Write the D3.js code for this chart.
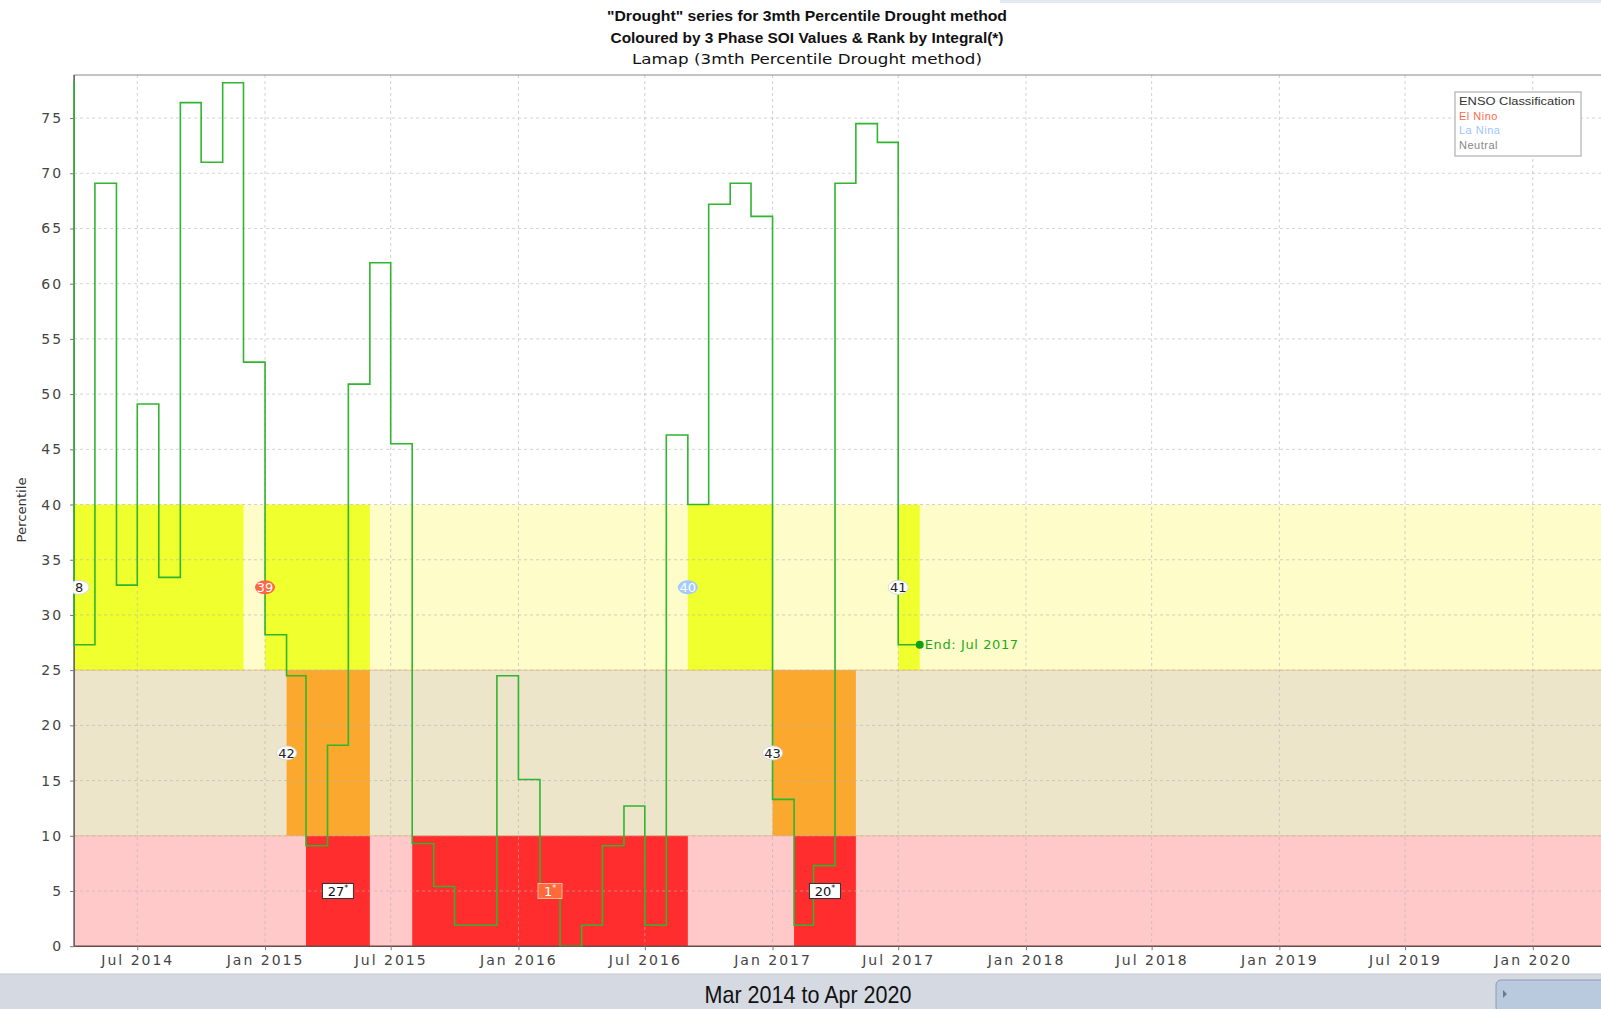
<!DOCTYPE html>
<html>
<head>
<meta charset="utf-8">
<script src="https://cdn.jsdelivr.net/npm/d3@7"></script>
<style>
html, body { margin: 0; padding: 0; background: #fff; overflow: hidden; }
svg { display: block; }
</style>
</head>
<body>
<svg id="chart"></svg>
<script>
// monthly 3mth percentile series
const months = ["2014-03","2014-04","2014-05","2014-06","2014-07","2014-08","2014-09","2014-10","2014-11","2014-12",
  "2015-01","2015-02","2015-03","2015-04","2015-05","2015-06","2015-07","2015-08","2015-09","2015-10","2015-11","2015-12",
  "2016-01","2016-02","2016-03","2016-04","2016-05","2016-06","2016-07","2016-08","2016-09","2016-10","2016-11","2016-12",
  "2017-01","2017-02","2017-03","2017-04","2017-05","2017-06","2017-07"];
const percentile = [78.2, 27.3, 69.1, 32.7, 49.1, 33.4, 76.4, 71.0, 78.2, 52.9,
  28.2, 24.5, 9.1, 18.2, 50.9, 61.9, 45.5, 9.3, 5.4, 1.9, 1.9, 24.5,
  15.1, 5.4, 0, 1.9, 9.1, 12.7, 1.9, 46.3, 40.0, 67.2, 69.1, 66.1,
  13.3, 1.9, 7.3, 69.1, 74.5, 72.8, 27.3];
const seriesEnd = "2017-08";

// percentile bands
const bandLow = [0, 10, 25];
const bandHigh = [10, 25, 40];
const bandLight = ["#ffc9c9", "#ede5c9", "#fefcc8"];
const bandStrong = ["#ff2d2d", "#fba82e", "#f0ff2e"];

// drought events
const eventStart = ["2014-04","2015-01","2016-09","2017-07","2015-02","2017-01","2015-03","2015-08","2017-02"];
const eventEnd   = ["2014-12","2015-06","2017-01","2017-08","2015-06","2017-05","2015-06","2016-09","2017-05"];
const eventBand  = [2, 2, 2, 2, 1, 1, 0, 0, 0];
const eventRank  = ["8","39","40","41","42","43","27","1","20"];
const eventEnso  = ["neutral","elnino","lanina","neutral","neutral","neutral","neutral","elnino","neutral"];

const ensoNames = ["El Nino", "La Nina", "Neutral"];
const ensoKeys = ["elnino", "lanina", "neutral"];
const ensoFill = {elnino: "#ff6443", lanina: "#a2cbff", neutral: "#ffffff"};
const ensoText = {elnino: "#ff6a4a", lanina: "#9cc6ff", neutral: "#888888"};

const yTicks = d3.range(0, 76, 5);

const W = 1601, H = 1009;
const pL = 74.1, pT = 75, pB = 946.2, pR = 1616.1;
const parseM = d3.timeParse("%Y-%m");
const parseD = d3.timeParse("%Y-%m-%d");

const x = d3.scaleTime()
    .domain([parseD("2014-04-01"), parseD("2020-04-30")])
    .range([pL, pR]);
const y = d3.scaleLinear().domain([0, 78.9]).range([pB, pT]);

const svg = d3.select("#chart").attr("width", W).attr("height", H)
    .style("font-family", "'DejaVu Sans', sans-serif");

svg.append("rect").attr("width", W).attr("height", H).attr("fill", "#fff");
svg.append("rect").attr("x", 1000).attr("y", 0).attr("width", 601).attr("height", 3).attr("fill", "#e4e9f1");

svg.append("defs").append("clipPath").attr("id", "plotclip")
    .append("rect").attr("x", pL - 1).attr("y", pT).attr("width", pR - pL + 1).attr("height", pB - pT);

const plot = svg.append("g").attr("clip-path", "url(#plotclip)");

// light bands
plot.append("g").selectAll("rect")
    .data(bandLow)
    .join("rect")
    .attr("x", pL)
    .attr("width", pR - pL)
    .attr("y", (d, i) => y(bandHigh[i]))
    .attr("height", (d, i) => y(d) - y(bandHigh[i]))
    .attr("fill", (d, i) => bandLight[i]);

// event columns
const events = eventStart.map((s, i) => ({
    start: parseM(s), end: parseM(eventEnd[i]), band: eventBand[i],
    rank: eventRank[i], enso: eventEnso[i]
}));

plot.append("g").selectAll("rect")
    .data(events)
    .join("rect")
    .attr("x", d => x(d.start))
    .attr("width", d => x(d.end) - x(d.start))
    .attr("y", d => y(bandHigh[d.band]))
    .attr("height", d => y(bandLow[d.band]) - y(bandHigh[d.band]))
    .attr("fill", d => bandStrong[d.band]);

// band edges
plot.append("g").selectAll("line")
    .data([10, 25])
    .join("line")
    .attr("x1", pL).attr("x2", pR)
    .attr("y1", d => y(d)).attr("y2", d => y(d))
    .attr("stroke", "#e8a060").attr("stroke-opacity", 0.55).attr("stroke-width", 1);

// grid
const xTicks = x.ticks(d3.timeMonth.every(6));
plot.append("g").selectAll("line")
    .data(xTicks)
    .join("line")
    .attr("x1", d => x(d)).attr("x2", d => x(d))
    .attr("y1", pT).attr("y2", pB)
    .attr("stroke", "#b4b4b4").attr("stroke-opacity", 0.6)
    .attr("stroke-dasharray", "3,3");
plot.append("g").selectAll("line")
    .data(yTicks.slice(1))
    .join("line")
    .attr("x1", pL).attr("x2", pR)
    .attr("y1", d => y(d)).attr("y2", d => y(d))
    .attr("stroke", "#b4b4b4").attr("stroke-opacity", 0.6)
    .attr("stroke-dasharray", "3,3");

// frame
svg.append("line").attr("x1", pL).attr("x2", W).attr("y1", pT).attr("y2", pT)
    .attr("stroke", "#8a8a8a").attr("stroke-width", 1.2);

// axes
const xAxis = svg.append("g")
    .attr("transform", `translate(0,${pB})`)
    .call(d3.axisBottom(x).tickValues(xTicks).tickFormat(d3.timeFormat("%b %Y")).tickSize(4).tickPadding(5));
const yAxis = svg.append("g")
    .attr("transform", `translate(${pL},0)`)
    .call(d3.axisLeft(y).tickValues(yTicks).tickSize(4).tickPadding(7));
[xAxis, yAxis].forEach(a => {
    a.select(".domain").attr("stroke", "#555").attr("stroke-width", 1.5);
    a.selectAll(".tick line").attr("stroke", "#777");
    a.selectAll(".tick text")
        .attr("font-family", "'DejaVu Sans', sans-serif")
        .attr("font-size", 14)
        .attr("letter-spacing", 2)
        .attr("fill", "#444");
});
xAxis.select(".domain").attr("d", `M${pL},0H${W}`).attr("stroke", "#6e4a4a");
yAxis.select(".domain").attr("d", `M0,${pT}V${pB}`);

// series and labels above the axes
const over = svg.append("g").attr("clip-path", "url(#plotclip)");

const pts = months.map((m, i) => [parseM(m), percentile[i]]);
pts.push([parseM(seriesEnd), percentile[percentile.length - 1]]);
const line = d3.line()
    .x(d => x(d[0]))
    .y(d => y(d[1]))
    .curve(d3.curveStepAfter);
over.append("path")
    .datum(pts)
    .attr("fill", "none")
    .attr("stroke", "#2fb52f")
    .attr("stroke-width", 1.6)
    .attr("d", line);

const bubble = events.filter(d => d.band > 0);
const bg = over.append("g").selectAll("g")
    .data(bubble)
    .join("g")
    .attr("transform", d => `translate(${Math.max(x(d.start), pL + 5)},${y((bandLow[d.band] + bandHigh[d.band]) / 2)})`);
bg.append("ellipse")
    .attr("rx", 10).attr("ry", 7)
    .attr("fill", d => ensoFill[d.enso])
    .attr("stroke", d => d.enso === "neutral" ? "#d8d8d8" : "none");
bg.append("text")
    .attr("text-anchor", "middle")
    .attr("dy", "0.36em")
    .attr("font-size", 13)
    .attr("fill", d => d.enso === "neutral" ? "#222" : "#fff")
    .text(d => d.rank);

const boxes = events.filter(d => d.band === 0);
const bx = over.append("g").selectAll("g")
    .data(boxes)
    .join("g")
    .attr("transform", d => `translate(${(x(d.start) + x(d.end)) / 2},${y(5)})`);
bx.append("rect")
    .attr("x", d => d.rank.length > 1 ? -15.5 : -12)
    .attr("width", d => d.rank.length > 1 ? 31 : 24)
    .attr("y", -7.5).attr("height", 15)
    .attr("fill", d => d.enso === "elnino" ? "#ff6a3a" : "#fff")
    .attr("stroke", d => d.enso === "elnino" ? "#ffb595" : "#333")
    .attr("stroke-width", 1);
const bt = bx.append("text")
    .attr("text-anchor", "middle")
    .attr("dy", "0.38em")
    .attr("font-size", 13)
    .attr("fill", d => d.enso === "elnino" ? "#fff" : "#111");
bt.append("tspan").text(d => d.rank);
bt.append("tspan").attr("font-size", 8).attr("dy", "-0.6em").text("*");

// end marker
const last = pts[pts.length - 1];
over.append("circle")
    .attr("cx", x(last[0])).attr("cy", y(last[1])).attr("r", 4)
    .attr("fill", "#11a011");
over.append("text")
    .attr("x", x(last[0]) + 5).attr("y", y(last[1]))
    .attr("dy", "0.35em")
    .attr("font-size", 13)
    .attr("letter-spacing", 0.6)
    .attr("fill", "#1ea81e")
    .text("End: " + d3.timeFormat("%b %Y")(parseM(months[months.length - 1])));

svg.append("text")
    .attr("transform", "translate(26,510) rotate(-90)")
    .attr("text-anchor", "middle")
    .attr("font-size", 13)
    .attr("textLength", 65).attr("lengthAdjust", "spacingAndGlyphs")
    .attr("fill", "#333")
    .text("Percentile");

// titles
const titles = [
    {t: "\"Drought\" series for 3mth Percentile Drought method", y: 20.5, w: 400, bold: true},
    {t: "Coloured by 3 Phase SOI Values & Rank by Integral(*)", y: 42.5, w: 393, bold: true},
    {t: "Lamap (3mth Percentile Drought method)", y: 64, w: 350, bold: false}
];
svg.append("g").selectAll("text")
    .data(titles)
    .join("text")
    .attr("x", 807)
    .attr("y", d => d.y)
    .attr("text-anchor", "middle")
    .attr("font-family", d => d.bold ? "'Liberation Sans', Arial, sans-serif" : "'DejaVu Sans', sans-serif")
    .attr("font-weight", d => d.bold ? "bold" : "normal")
    .attr("font-size", d => d.bold ? 15 : 14)
    .attr("textLength", d => d.w)
    .attr("lengthAdjust", "spacingAndGlyphs")
    .attr("fill", "#111")
    .text(d => d.t);

// legend
const lg = svg.append("g").attr("transform", "translate(1455,92)");
lg.append("rect").attr("width", 126).attr("height", 64)
    .attr("fill", "#fff").attr("stroke", "#c0c0c0").attr("stroke-width", 1.5);
lg.append("text").attr("x", 4).attr("y", 13)
    .attr("font-family", "'Liberation Sans', Arial, sans-serif")
    .attr("font-size", 11).attr("fill", "#333")
    .attr("textLength", 116).attr("lengthAdjust", "spacingAndGlyphs")
    .text("ENSO Classification");
lg.selectAll("text.item")
    .data(ensoKeys)
    .join("text")
    .attr("class", "item")
    .attr("x", 4)
    .attr("y", (d, i) => 27.5 + i * 14.6)
    .attr("font-family", "'Liberation Sans', Arial, sans-serif")
    .attr("font-size", 11)
    .attr("letter-spacing", 0.5)
    .attr("fill", d => ensoText[d])
    .text((d, i) => ensoNames[i]);

// bottom range bar
svg.append("rect").attr("x", 0).attr("y", 974).attr("width", W).attr("height", 35).attr("fill", "#d5d9e1");
svg.append("line").attr("x1", 0).attr("x2", W).attr("y1", 974).attr("y2", 974).attr("stroke", "#c4c8d0");
svg.append("text")
    .attr("x", 808).attr("y", 1003)
    .attr("text-anchor", "middle")
    .attr("font-family", "'Liberation Sans Narrow', 'Liberation Sans', sans-serif")
    .attr("font-size", 24)
    .attr("textLength", 207).attr("lengthAdjust", "spacingAndGlyphs")
    .attr("fill", "#111")
    .text("Mar 2014 to " + d3.timeFormat("%b %Y")(x.domain()[1]));
svg.append("rect").attr("x", 1496).attr("y", 980).attr("width", 110).attr("height", 32).attr("rx", 5)
    .attr("fill", "#b9c9de").attr("stroke", "#8e9cb2");
svg.append("path").attr("d", "M1503,990L1507,994L1503,998Z").attr("fill", "#6c7a8e");
</script>
</body>
</html>
